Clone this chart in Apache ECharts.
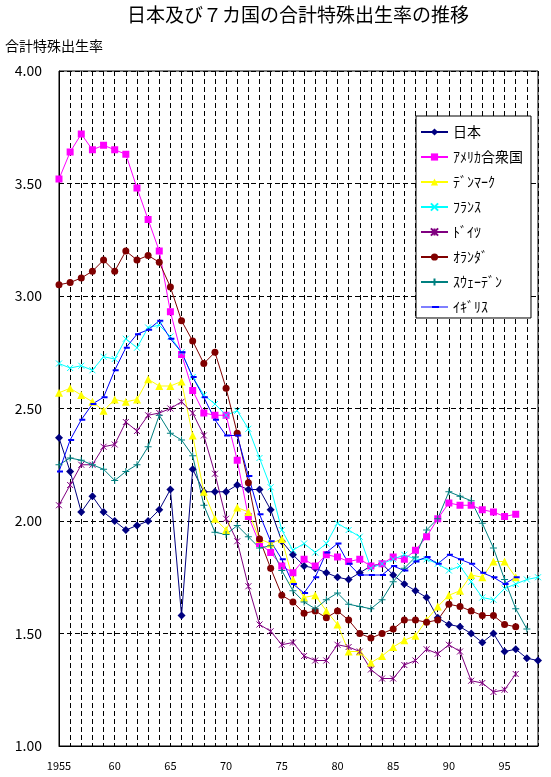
<!DOCTYPE html>
<html>
<head>
<meta charset="utf-8">
<script src="https://cdn.jsdelivr.net/npm/echarts@6/dist/echarts.min.js"></script>
<style>
html,body{margin:0;padding:0;background:#fff;}
#chart{width:551px;height:777px;}
</style>
</head>
<body>
<div id="chart"></div>
<script>
const years = [];
for (let y = 1955; y <= 1998; y++) years.push(String(y));
const xTickLabels = ['1955','60','65','70','75','80','85','90','95'];

const japan = [2.37,2.22,2.04,2.11,2.04,2.00,1.96,1.98,2.00,2.05,2.14,1.58,2.23,2.13,2.13,2.13,2.16,2.14,2.14,2.05,1.91,1.85,1.80,1.79,1.77,1.75,1.74,1.77,1.80,1.81,1.76,1.72,1.69,1.66,1.57,1.54,1.53,1.50,1.46,1.50,1.42,1.43,1.39,1.38];
const usa = [3.52,3.64,3.72,3.65,3.67,3.65,3.63,3.48,3.34,3.20,2.93,2.74,2.58,2.48,2.47,2.47,2.27,2.02,1.90,1.86,1.80,1.77,1.83,1.80,1.85,1.84,1.82,1.83,1.80,1.81,1.84,1.83,1.87,1.93,2.01,2.08,2.07,2.07,2.05,2.04,2.02,2.03,null,null];
const denmark = [2.57,2.59,2.56,2.53,2.49,2.54,2.53,2.54,2.63,2.60,2.60,2.62,2.38,2.13,2.01,1.96,2.06,2.04,1.92,1.90,1.92,1.74,1.66,1.67,1.60,1.54,1.42,1.42,1.37,1.40,1.44,1.47,1.49,1.56,1.62,1.67,1.69,1.76,1.75,1.82,1.82,1.75,null,null];
const france = [2.70,2.68,2.69,2.67,2.73,2.72,2.81,2.77,2.86,2.87,2.82,2.75,2.64,2.56,2.52,2.47,2.49,2.41,2.28,2.15,1.96,1.87,1.90,1.86,1.90,1.99,1.96,1.93,1.79,1.81,1.83,1.85,1.83,1.83,1.81,1.78,1.80,1.73,1.66,1.65,1.70,1.72,1.74,1.75];
const germany = [2.07,2.16,2.25,2.25,2.33,2.34,2.44,2.40,2.47,2.48,2.50,2.53,2.48,2.38,2.21,2.01,1.91,1.71,1.54,1.51,1.45,1.46,1.40,1.38,1.38,1.45,1.44,1.42,1.34,1.30,1.30,1.36,1.38,1.43,1.41,1.45,1.42,1.29,1.28,1.24,1.25,1.32,null,null];
const netherlands = [3.05,3.06,3.08,3.11,3.16,3.11,3.20,3.16,3.18,3.15,3.04,2.89,2.80,2.70,2.75,2.59,2.39,2.17,1.92,1.79,1.67,1.64,1.59,1.60,1.57,1.60,1.56,1.50,1.48,1.50,1.52,1.56,1.56,1.55,1.56,1.63,1.62,1.60,1.58,1.58,1.54,1.53,null,null];
const sweden = [2.25,2.28,2.27,2.25,2.23,2.18,2.22,2.25,2.33,2.47,2.39,2.36,2.29,2.07,1.95,1.94,1.98,1.93,1.88,1.89,1.78,1.69,1.64,1.61,1.65,1.68,1.63,1.62,1.61,1.65,1.73,1.79,1.84,1.96,2.01,2.13,2.11,2.09,1.99,1.88,1.74,1.61,1.52,null];
const uk = [2.22,2.36,2.45,2.52,2.55,2.67,2.77,2.83,2.85,2.89,2.81,2.75,2.64,2.55,2.45,2.38,2.38,2.20,2.03,1.91,1.83,1.72,1.68,1.75,1.86,1.90,1.81,1.76,1.76,1.76,1.80,1.78,1.82,1.84,1.81,1.85,1.83,1.81,1.77,1.75,1.72,1.75,null,null];

const seriesNames = ['日本','ｱﾒﾘｶ合衆国','ﾃﾞﾝﾏｰｸ','ﾌﾗﾝｽ','ﾄﾞｲﾂ','ｵﾗﾝﾀﾞ','ｽｳｪｰﾃﾞﾝ','ｲｷﾞﾘｽ'];
const seriesData = [japan, usa, denmark, france, germany, netherlands, sweden, uk];
const colors = ['#000080','#FF00FF','#FFFF00','#00FFFF','#800080','#800000','#008080','#0000FF'];
const symbols = ['diamond','rect','triangle','path://M0,0L8,8M8,0L0,8','path://M0,0L8,8M8,0L0,8M4,0L4,8','circle','path://M4,0L4,8M0,4L8,4','path://M0,0L10,0L10,3L0,3Z'];
const symbolSizes = [8,7,8,6,6,7,7,[6,2]];
const strokeWidths = [0,0,0,1,1,0,1,0];

const FONT = '"Noto Sans CJK JP", "Noto Sans", sans-serif';

const chart = echarts.init(document.getElementById('chart'), null, {renderer:'canvas'});
const series = seriesNames.map((name, i) => ({
  name: name,
  type: 'line',
  data: seriesData[i],
  symbol: symbols[i],
  symbolSize: symbolSizes[i],
  symbolKeepAspect: false,
  symbolOffset: i === 7 ? [1, 0] : [0, 0],
  showSymbol: true,
  showAllSymbol: true,
  connectNulls: false,
  lineStyle: {color: colors[i], width: 1},
  itemStyle: {color: colors[i], borderColor: colors[i], borderWidth: strokeWidths[i]},
  emphasis: {disabled: true},
  animation: false
}));

// legend icon for the dash-marker series: thin line with a short thick dash in the middle
const dashLegendIcon = 'path://M0,0L0.01,0L0,0.01ZM27,9L26.99,9L27,8.99ZM0,4L27,4L27,5L0,5ZM11,3.5L18,3.5L18,5.5L11,5.5Z';
const legendData = seriesNames.map((n, i) => (i === 7 ? {name: n, icon: dashLegendIcon} : n));

chart.setOption({
  backgroundColor: '#fff',
  animation: false,
  title: [
    {text: '日本及び７カ国の合計特殊出生率の推移', left: 127, top: 5, padding: 0,
     textStyle: {fontSize: 19, fontWeight: 'normal', color: '#000', fontFamily: FONT}},
    {text: '合計特殊出生率', left: 5, top: 39, padding: 0,
     textStyle: {fontSize: 14, fontWeight: 'normal', color: '#000', fontFamily: FONT}}
  ],
  legend: {
    orient: 'vertical', left: 416, top: 116,
    itemWidth: 27, itemHeight: 9, itemGap: 11,
    padding: [9, 8, 4, 4],
    borderColor: '#000', borderWidth: 1, backgroundColor: '#fff',
    textStyle: {fontSize: 14, color: '#000', fontFamily: FONT},
    data: legendData
  },
  grid: {left: 59, right: 13, top: 71, bottom: 31, show: true, borderColor: '#000', borderWidth: 1, backgroundColor: '#fff'},
  xAxis: {
    type: 'category', data: years, boundaryGap: false,
    axisLine: {lineStyle: {color: '#000', width: 1}},
    axisTick: {show: false},
    axisLabel: {interval: 0, margin: 14, fontSize: 11, color: '#000', fontFamily: FONT,
      formatter: (v, idx) => (idx % 5 === 0 ? (xTickLabels[idx / 5] || '') : '')},
    splitLine: {show: true, interval: 0, lineStyle: {color: '#000', width: 1, type: [5, 3]}}
  },
  yAxis: {
    type: 'value', min: 1, max: 4, interval: 0.5,
    axisLine: {show: true, lineStyle: {color: '#000', width: 1}},
    axisTick: {show: false},
    axisLabel: {margin: 17, fontSize: 14, color: '#000', fontFamily: FONT, formatter: v => v.toFixed(2)},
    splitLine: {show: true, lineStyle: {color: '#000', width: 1, type: [5, 3]}}
  },
  series: series
});
</script>
</body>
</html>
